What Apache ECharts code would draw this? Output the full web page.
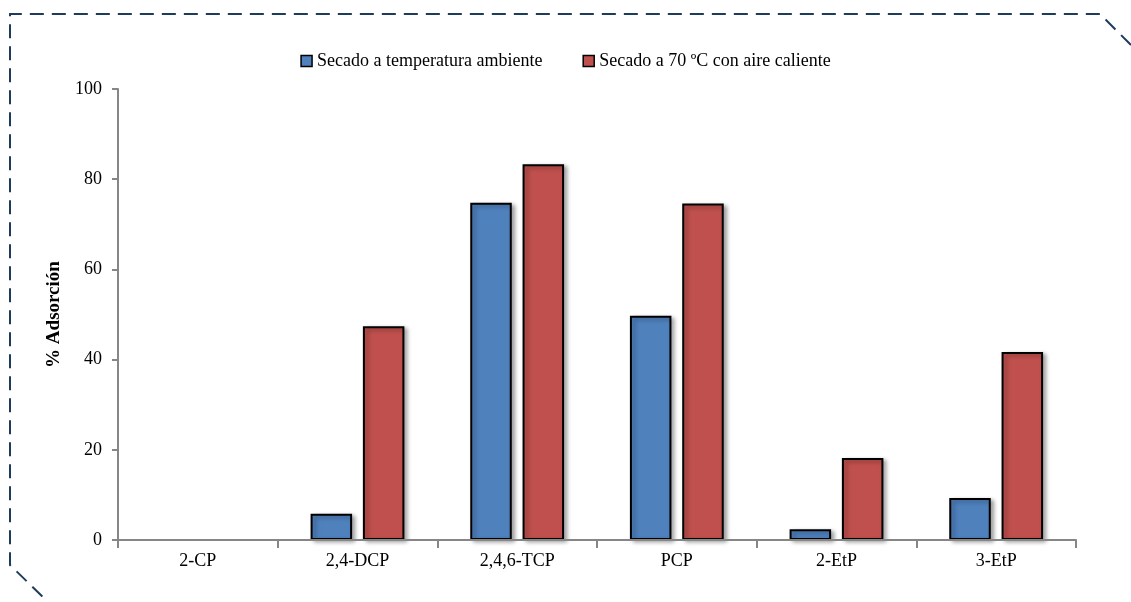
<!DOCTYPE html>
<html><head><meta charset="utf-8">
<script src="https://cdn.jsdelivr.net/npm/echarts@6/dist/echarts.min.js"></script>
<style>html,body{margin:0;padding:0;background:#fff}#c{width:1131px;height:602px}</style>
</head><body><div id="c"></div>
<script>
const categories = ['2-CP','2,4-DCP','2,4,6-TCP','PCP','2-EtP','3-EtP'];
const seriesNames = ['Secado a temperatura ambiente','Secado a 70 ºC con aire caliente'];
const ambiente = [0, 5.8, 74.8, 49.7, 2.4, 9.3];
const caliente = [0, 47.4, 83.3, 74.6, 18.2, 41.7];
const yTicks = {min:0, max:100, interval:20};

const font = 'Liberation Serif';
const chart = echarts.init(document.getElementById('c'), null, {renderer:'canvas'});
const barStyle = (color) => ({
  color: color, borderColor:'#000', borderWidth:2,
  shadowColor:'rgba(0,0,0,0.35)', shadowBlur:4, shadowOffsetX:3, shadowOffsetY:2
});
const toItems = arr => arr.map(v => v === 0
  ? {value:v, itemStyle:{borderWidth:0, shadowBlur:0, shadowOffsetX:0, shadowOffsetY:0, shadowColor:'rgba(0,0,0,0)'}}
  : v);
chart.setOption({
  animation:false,
  backgroundColor:'#fff',
  graphic:[
    {type:'polyline', silent:true, shape:{points:[[1131,45],[1100,14],[10,14],[10,565],[48,602]]},
     style:{stroke:'#1f3b5c', lineWidth:2, lineDash:[14,8], fill:null}}
  ],
  legend:{
    top:47, left:'center', itemWidth:11, itemHeight:11, itemGap:40,
    textStyle:{fontFamily:font, fontSize:18, color:'#000'},
    data:seriesNames.map(n=>({name:n, icon:'rect', itemStyle:{borderColor:'#000', borderWidth:1.5}}))
  },
  grid:{left:118, right:55, top:89, bottom:62},
  xAxis:{
    type:'category', data:categories, z:5,
    axisLine:{lineStyle:{color:'#868686', width:2}},
    axisTick:{show:true, alignWithLabel:false, length:8, lineStyle:{color:'#868686', width:2}},
    axisLabel:{fontFamily:font, fontSize:18, color:'#000', margin:12}
  },
  yAxis:{
    type:'value', min:yTicks.min, max:yTicks.max, interval:yTicks.interval,
    name:'% Adsorción', nameLocation:'middle', nameGap:54,
    nameTextStyle:{fontFamily:font, fontSize:19, fontWeight:'bold', color:'#000'},
    axisLine:{show:true, lineStyle:{color:'#868686', width:2}},
    axisTick:{show:true, length:6, lineStyle:{color:'#868686', width:2}},
    splitLine:{show:false},
    axisLabel:{fontFamily:font, fontSize:18, color:'#000', margin:16}
  },
  series:[
    {name:seriesNames[0], type:'bar', data:toItems(ambiente), barWidth:'26%', barGap:'26%', itemStyle:barStyle('#4f81bd')},
    {name:seriesNames[1], type:'bar', data:toItems(caliente), barWidth:'26%', barGap:'26%', itemStyle:barStyle('#c0504d')}
  ]
});
</script></body></html>
